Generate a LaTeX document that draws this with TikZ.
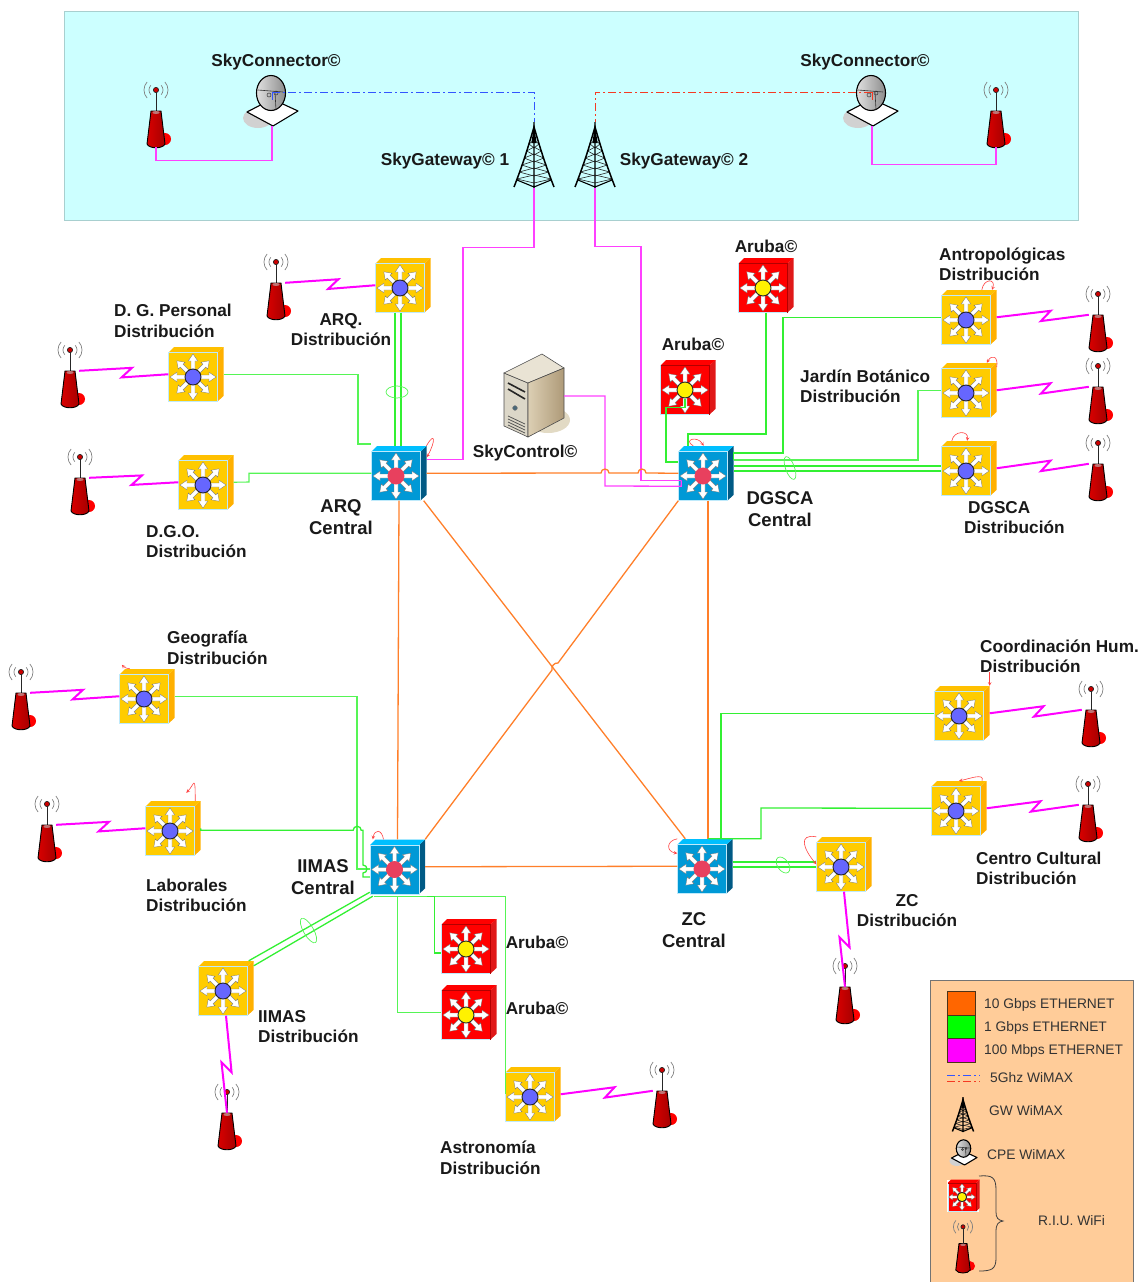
\documentclass[tikz,border=0pt]{standalone}
\usepackage{fontspec}
\setmainfont{Liberation Sans}
\usetikzlibrary{calc}

\definecolor{cielo}{HTML}{CCFFFF}
\definecolor{cielob}{HTML}{A8CFCF}
\definecolor{durazno}{HTML}{FFCC99}
\definecolor{naranja}{HTML}{FF7F2A}
\definecolor{naranjal}{HTML}{FF6600}
\definecolor{verde}{HTML}{33F033}
\definecolor{verdec}{HTML}{55F555}
\definecolor{rosado}{HTML}{FF40FF}
\definecolor{magenta}{HTML}{FF00FF}
\definecolor{azulf}{HTML}{0099D6}
\definecolor{azult}{HTML}{00BFFF}
\definecolor{azulc}{HTML}{005A85}
\definecolor{amaf}{HTML}{FFCC00}
\definecolor{amat}{HTML}{FFC000}
\definecolor{amac}{HTML}{FFB000}
\definecolor{rojof}{HTML}{FF0000}
\definecolor{rojoc}{HTML}{E01818}
\definecolor{hubrosa}{HTML}{E8405E}
\definecolor{hubazul}{HTML}{6666FF}
\definecolor{hubama}{HTML}{FFF200}
\definecolor{wazul}{HTML}{3355FF}
\definecolor{wrojo}{HTML}{F53A22}
\definecolor{srvtapa}{HTML}{E9E3D4}
\definecolor{srvfrente}{HTML}{DCD7C8}
\definecolor{srvclaro}{HTML}{DCCFB4}
\definecolor{srvoscuro}{HTML}{AE9A78}
\definecolor{srvsombra}{HTML}{E2DAC4}

\tikzset{
  etq/.style={font=\bfseries\fontsize{17.2}{20.5}\selectfont, align=left, inner sep=0pt, text=black!90},
  etqc/.style={font=\bfseries\fontsize{18.5}{22}\selectfont, align=center, inner sep=0pt, text=black!90},
  legtxt/.style={font=\fontsize{13.8}{17}\selectfont, anchor=west, inner sep=0pt, text=black!80},
  legbox/.style={draw=black!60!brown, line width=.8pt, minimum width=28pt, minimum height=23.5pt, inner sep=0pt},
  xge/.style={naranja, line width=1.3pt},
  gbe/.style={verde, line width=1.3pt},
  gbefino/.style={verdec, line width=1.1pt},
  fe/.style={rosado, line width=1.3pt},
  rf/.style={magenta, line width=2pt},
  wazl/.style={wazul, line width=1pt, dash pattern=on 8pt off 3pt on 2pt off 3pt},
  wroj/.style={wrojo, line width=1pt, dash pattern=on 8pt off 3pt on 2pt off 3pt},
  lazo/.style={red!75!white, line width=.6pt, ->, >=stealth},
  haz/.style={verdec, line width=.7pt}
}

\newcommand{\conmutador}[9]{%
  \node[minimum width=#8*55pt, minimum height=#8*54.5pt, inner sep=0pt] (#1) at ($(#2,#3)+#8*(3,-2.75)$) {};
  \begin{scope}[shift={(#2,#3)}, scale=#8]
    \fill[#5] (24.5,-24.5) -- (30.5,-30) -- (30.5,19) -- (24.5,24.5) -- cycle;
    \fill[#6] (-24.5,-24.5) -- (-19,-30) -- (30.5,-30) -- (24.5,-24.5) -- cycle;
    \filldraw[fill=#4, draw=cyan!25!white, line width=.5pt] (-24.5,-24.5) rectangle (24.5,24.5);
    \foreach \ang in {0,45,...,315}
      \filldraw[fill=white, draw=black!55, line width=.3pt, rotate=\ang] (7,-2) -- (16,-2) -- (16,-4.8) -- (23,0) -- (16,4.8) -- (16,2) -- (7,2) -- cycle;
    \filldraw[fill=#7, draw=#9, line width=.9pt] (0,0) circle (8);
  \end{scope}}
\newcommand{\swcentral}[3]{\conmutador{#1}{#2}{#3}{azulf}{azulc}{azult}{hubrosa}{1}{hubrosa}}
\newcommand{\swdist}[3]{\conmutador{#1}{#2}{#3}{amaf}{amac}{amat}{hubazul}{1}{black!85}}
\newcommand{\swaruba}[4]{\conmutador{#1}{#2}{#3}{rojof}{rojoc}{rojof}{hubama}{#4}{black!85}%
  \draw[red!70!black, line width=.5pt, shift={(#2,#3)}, scale=#4] (-24.5,-24.5) -- (24.5,-24.5) -- (24.5,24.5);}

\newcommand{\antena}[4]{%
  \node[minimum width=#4*18pt, minimum height=#4*36pt, inner sep=0pt] (#1) at (#2,#3) {};
  \begin{scope}[shift={(#2,#3)}, scale=#4]
    \fill[red] (9,10) circle (6);
    \draw[black!85, line width=1pt] (0,-39) -- (0,-18);
    \foreach \rad in {7,12} {
      \draw[black!50, line width=.7pt] (0,-39) ++(-42:\rad) arc[start angle=-42, end angle=42, radius=\rad];
      \draw[black!50, line width=.7pt] (0,-39) ++(138:\rad) arc[start angle=138, end angle=222, radius=\rad];
    }
    \filldraw[fill=red!80!black, draw=black!85, line width=.7pt] (0,-39) circle (2.6);
    \draw[line width=.9pt, draw=black, left color=red!85!black, middle color=red, right color=red!65!black] (-5,-18) -- (5,-18) -- (9,15) .. controls (7,20) and (-7,20) .. (-9,15) -- cycle;
    \fill[red!40!white!75!black] (0,-16.5) ellipse (3.5 and 1.5);
  \end{scope}}

\newcommand{\torre}[4]{%
  \node[minimum width=#4*40pt, minimum height=#4*66pt, inner sep=0pt] (#1) at (#2,#3) {};
  \begin{scope}[shift={(#2,#3)}, scale=#4]
    \foreach \alt in {-11,-4,3,10,17,24} {
      \pgfmathsetmacro{\anc}{(\alt+25)*20/57}
      \draw[black!85, line width=.6pt] (-\anc,\alt) -- (0,\alt+4) -- (\anc,\alt) (-\anc,\alt) -- (0,\alt-4) -- (\anc,\alt);
    }
    \draw[black, line width=1.5pt] (-20,32) .. controls (-9,4) and (-3,-18) .. (0,-28) .. controls (3,-18) and (9,4) .. (20,32);
    \draw[black, line width=1.1pt] (0,-33) -- (0,33) (-17,25) -- (0,32) -- (17,25);
    \fill[black] (-2.6,-12) -- (0,-30) -- (2.6,-12) -- cycle;
  \end{scope}}

\newcommand{\plato}[4]{%
  \node[minimum width=#4*52pt, minimum height=#4*68pt, inner sep=0pt] (#1) at (#2,#3) {};
  \begin{scope}[shift={(#2,#3)}, scale=#4]
    \fill[black!18] (-14,26) ellipse (15 and 10);
    \filldraw[fill=white, draw=black, line width=1.1pt, line join=round] (-25,20) -- (0,7) -- (26,19) -- (1,34) -- cycle;
    \draw[line width=1.1pt, draw=black, left color=black!12, right color=black!45] (-1,1) ellipse (14.5 and 17.5);
    \draw[black!80, line width=.6pt] (-14,-2) -- (11,0) (3,0) -- (4,18);
    \draw[black!80, line width=.5pt] (-3,3) circle (2) (4,1) circle (2);
  \end{scope}}

\newcommand{\enlace}[2]{\draw[rf] (#1) -- ($(#1)!.5!(#2)!8pt!(#2)!5pt!90:(#2)$) -- ($(#1)!.5!(#2)!-2pt!(#2)!5pt!-90:(#2)$) -- (#2);}

\begin{document}
\begin{tikzpicture}[x=1pt, y=-1pt]
  \useasboundingbox (0,0) rectangle (1141,1282);
  \filldraw[fill=cielo, draw=cielob, line width=.6pt] (64,11) rectangle (1078,220);
  \filldraw[fill=durazno, draw=black!55, line width=.9pt] (930,980) rectangle (1133,1284);

  \antena{ta}{156}{129}{1}
  \antena{tb}{996}{129}{1}
  \plato{sca}{272}{92}{1}
  \plato{scb}{872}{92}{1}
  \torre{gwa}{534}{155}{1}
  \torre{gwb}{595}{155}{1}

  \swdist{arqd}{400}{288}
  \swdist{dgp}{193}{377}
  \swdist{dgo}{203}{485}
  \swdist{antrop}{966}{320}
  \swdist{jardin}{966}{393}
  \swdist{dgscad}{966}{471}
  \swdist{geog}{144}{699}
  \swdist{lab}{170}{831}
  \swdist{iimasd}{223}{991}
  \swdist{astro}{530}{1097}
  \swdist{zcd}{841}{867}
  \swdist{coord}{959}{716}
  \swdist{centro}{956}{811}

  \swcentral{arq}{396}{476}
  \swcentral{dgsca}{703}{476}
  \swcentral{iimas}{394.5}{869.5}
  \swcentral{zc}{702}{869}

  \swaruba{aa}{763}{288}{1}
  \swaruba{ab}{685}{390}{1}
  \swaruba{ac}{466}{949}{1}
  \swaruba{ad}{466}{1015}{1}

  \antena{tarqd}{276}{301}{1}
  \antena{tdgp}{70}{389}{1}
  \antena{tdgo}{80}{496}{1}
  \antena{tantrop}{1098}{333}{1}
  \antena{tjardin}{1098}{405}{1}
  \antena{tdgscad}{1098}{482}{1}
  \antena{tgeog}{21}{711}{1}
  \antena{tlab}{47}{843}{1}
  \antena{tiimasd}{227}{1131}{1}
  \antena{tastro}{662}{1109}{1}
  \antena{tzcd}{845}{1005}{1}
  \antena{tcoord}{1091}{728}{1}
  \antena{tcentro}{1088}{823}{1}

  % servidor
  \node[minimum width=60pt, minimum height=82pt, inner sep=0pt] (skc) at (534,396) {};
  \fill[srvsombra] (548,420) ellipse (22 and 13);
  \filldraw[fill=srvfrente, draw=black!70, line width=.6pt] (504,373) -- (528,383) -- (528,437) -- (504,426) -- cycle;
  \filldraw[fill=srvtapa, draw=black!70, line width=.6pt] (504,373) -- (542,354) -- (564,368) -- (528,383) -- cycle;
  \draw[draw=black!70, line width=.6pt, left color=srvclaro, right color=srvoscuro] (528,383) -- (564,368) -- (564,418) -- (528,437) -- cycle;
  \draw[black!85, line width=1.6pt] (508,383) -- (525,392) (508,389) -- (525,399);
  \filldraw[fill=cyan!40!black, draw=black!50] (515,408) circle (2.4);
  \foreach \alt in {416,419,422,425}
    \draw[black!70, line width=.7pt] (508,\alt) -- (525,\alt+8);

  \draw[wazl] (sca.center) -- ++(0,8) (sca.center) -| (gwa.north);
  \draw[wroj] (scb.center) -- ++(0,8) (scb.center) -| (gwb.north);

  \coordinate (dgin) at ([xshift=3pt,yshift=-7pt]dgsca.west);
  \coordinate (dgsk) at ([xshift=3pt,yshift=-13pt]dgsca.west);
  \coordinate (iimb) at ([yshift=-2pt]iimas.south);

  \draw[fe] (sca.south) -- ++(0,34) -| (ta.south);
  \draw[fe] (scb.south) -- ++(0,38) -| (tb.south);
  \draw[fe] (gwa.south) -- ++(0,59) -- ++(-71,0) |- ([yshift=14pt]arq.east);
  \draw[fe] (gwb.south) -- ++(0,58) -- ++(46,0) |- (dgin);
  \draw[fe] (skc.east) -| (605,486) -- (dgsk) -- (dgin);

  \draw[xge] (arq.east) -- (601,473) arc[start angle=180, end angle=0, radius=4pt] -- (638,473) arc[start angle=180, end angle=0, radius=4pt] -- (dgsca.west);
  \draw[xge] (arq.south) -- (iimas.north);
  \draw[xge] ([xshift=2pt]dgsca.south) -- ([xshift=3pt]zc.north);
  \draw[xge] ([xshift=-3pt]arq.south east) -- ([xshift=8pt]zc.north west);
  \draw[xge] (dgsca.south west) -- (558,663) to[bend right=60] (552,670) -- (iimas.north east);
  \draw[xge] (iimas.east) -- (zc.west);

  \draw[gbe] ([xshift=-8pt]arqd.south) -- ([xshift=-4pt]arq.north);
  \draw[gbe] ([xshift=-2pt]arqd.south) -- ([xshift=2pt]arq.north);
  \draw[gbefino] (dgp.east) -| (358,444) -- (arq.west |- 0,444);
  \draw[gbefino] (dgo.east) -- (249,482) |- (arq.west);
  \draw[gbe] ([xshift=-3pt,yshift=16pt]ab.south) -- ++(0,9) -| (666,462) -- (dgsca.west |- 0,462);
  \draw[gbe] (aa.south) |- (688,434) -- ([xshift=-18pt]dgsca.north);
  \draw[gbe] (antrop.west) -| (783,453) -- (dgsca.east |- 0,453) -- (dgsca.east |- 0,460);
  \draw[gbefino] (jardin.west) -| (918,460) -- (dgsca.east |- 0,460);
  \draw[gbe] (dgsca.east |- 0,466) -- (dgscad.west |- 0,466);
  \draw[gbe] (dgsca.east |- 0,471) -- (dgscad.west |- 0,471);

  \draw[gbefino] (geog.east) -| (357,869) -- (iimas.west |- 0,869);
  \draw[gbe] (lab.east) -- ++(0,2) -- ++(152.5,0) arc[start angle=180, end angle=0, radius=4pt] -| (363,865) arc[start angle=90, end angle=-90, radius=4pt] |- (iimas.west |- 0,877);
  \draw[gbe] ([xshift=-5pt]iimasd.north east) -- ([yshift=2pt]iimas.south west);
  \draw[gbe] ([yshift=-5pt]iimasd.north east) -- ([xshift=3pt,yshift=-2pt]iimas.south west);
  \draw[gbefino] ([xshift=-24pt]iimb) -| (astro.west);
  \draw[gbe] ([xshift=29pt]iimb) -- ++(8,0) |- (ac.west |- 0,953);
  \draw[gbefino] (iimb) |- (ad.west);

  \draw[gbe] (coord.west) -| ([xshift=16pt]zc.north) -- ([xshift=3pt]zc.north);
  \draw[gbe] (centro.west) -- (761,808) |- ([xshift=3pt]zc.north);
  \draw[gbe] (zc.east |- 0,862) -- (zcd.west |- 0,862);
  \draw[gbe] (zc.east |- 0,867) -- (zcd.west |- 0,867);

  \draw[haz] (397,392) ellipse (11 and 6);
  \draw[haz, rotate around={20:(790,468)}] (790,468) ellipse (4.5 and 12);
  \draw[haz, rotate around={30:(308.5,930.5)}] (308.5,930.5) ellipse (5 and 14);
  \draw[haz, rotate around={35:(783,865)}] (783,865) ellipse (5.5 and 9);

  \enlace{tarqd.north east}{arqd.west}
  \enlace{tdgp.north east}{dgp.west}
  \enlace{tdgo.north east}{dgo.west}
  \enlace{antrop.east}{tantrop.north west}
  \enlace{jardin.east}{tjardin.north west}
  \enlace{dgscad.east}{tdgscad.north west}
  \enlace{tgeog.north east}{geog.west}
  \enlace{tlab.north east}{lab.west}
  \enlace{iimasd.south}{tiimasd.north}
  \enlace{astro.east}{tastro.north west}
  \enlace{zcd.south}{tzcd.north}
  \enlace{coord.east}{tcoord.north west}
  \enlace{centro.east}{tcentro.north west}

  \draw[lazo] (arq.45) to[out=60, in=60, looseness=4] (arq.30);
  \draw[lazo] (dgsca.115) to[out=150, in=120, looseness=3] (dgsca.95);
  \draw[lazo] (antrop.65) to[out=80, in=70, looseness=3] (antrop.50);
  \draw[lazo] (jardin.40) to[out=80, in=60, looseness=2.5] (jardin.57);
  \draw[lazo] (dgscad.122) to[out=80, in=80, looseness=1.8] (dgscad.94);
  \draw[lazo] ([yshift=14pt]coord.north east) -- (coord.north east);
  \draw[lazo] (centro.50) to[out=70, in=10] (centro.90);
  \draw[lazo] (zcd.north west) to[out=170, in=130, looseness=1.8] (zcd.180);
  \draw[lazo] (zc.north west) to[out=190, in=170, looseness=2] (zc.155);
  \draw[lazo] (geog.122) to[bend left=20] ++(-8,-4);
  \draw[lazo] (lab.51) .. controls +(0,-28) and +(8,-8) .. ++(-9,-8);
  \draw[lazo] (iimas.117) to[out=100, in=80, looseness=2.5] (iimas.132);

  \node[etq] (lsca) at (276,62.5) {SkyConnector©};
  \node[etq] (lscb) at (865,62.5) {SkyConnector©};
  \node[etq] (lgwa) at (445,161) {SkyGateway© 1};
  \node[etq] (lgwb) at (684,161) {SkyGateway© 2};
  \node[etq, anchor=west] (ldgp) at (114,321) {D. G. Personal\\Distribución};
  \node[etq, align=center] (larqd) at (341,329.5) {ARQ.\\Distribución};
  \node[etq] (laa) at (766,246.5) {Aruba©};
  \node[etq] (lab2) at (693,344.5) {Aruba©};
  \node[etq, anchor=west] (lantrop) at (939,264.5) {Antropológicas\\Distribución};
  \node[etq, anchor=west] (ljardin) at (800,386.5) {Jardín Botánico\\Distribución};
  \node[etq] (lskc) at (525,453.5) {SkyControl©};
  \node[etq, anchor=west] (ldgo) at (146,541.5) {D.G.O.\\Distribución};
  \node[etqc] (larq) at (341,517.5) {ARQ\\Central};
  \node[etqc] (ldgsca) at (780,509) {DGSCA\\Central};
  \node[etqc] (liimas) at (323,877) {IIMAS\\Central};
  \node[etqc] (lzc) at (694,930) {ZC\\Central};
  \node[etq, anchor=west] (ldgscad) at (964,517.5) {\hspace{4pt}DGSCA\\Distribución};
  \node[etq, anchor=west] (lgeog) at (167,648) {Geografía\\Distribución};
  \node[etq, anchor=west] (lcoord) at (980,656.5) {Coordinación Hum.\\Distribución};
  \node[etq, anchor=west] (llab) at (146,895.5) {Laborales\\Distribución};
  \node[etq, anchor=west] (lcentro) at (976,868.5) {Centro Cultural\\Distribución};
  \node[etq, align=center] (lzcd) at (907,910.5) {ZC\\Distribución};
  \node[etq, anchor=west] (liimasd) at (258,1026.5) {IIMAS\\Distribución};
  \node[etq] (lac) at (537,942.5) {Aruba©};
  \node[etq] (lad) at (537,1008.5) {Aruba©};
  \node[etq, anchor=west] (lastro) at (440,1158) {Astronomía\\Distribución};

  \node[legbox, fill=naranjal] (cxge) at (961,1003.5) {};
  \node[legbox, fill=green] (cgbe) at (961,1027) {};
  \node[legbox, fill=magenta] (cfe) at (961,1050.5) {};
  \node[legtxt] (txge) at (984,1004.5) {10 Gbps ETHERNET};
  \node[legtxt] (tgbe) at (984,1027.5) {1 Gbps ETHERNET};
  \node[legtxt] (tfe) at (984,1050.5) {100 Mbps ETHERNET};
  \draw[wazl] (947,1075) -- (980,1075);
  \draw[wroj] (947,1081) -- (980,1081);
  \node[legtxt] (twim) at (990,1078) {5Ghz WiMAX};
  \torre{lgw}{963}{1114.5}{.53}
  \node[legtxt] (tgw) at (989,1111) {GW WiMAX};
  \plato{lcpe}{964}{1148}{.5}
  \node[legtxt] (tcpe) at (987,1155) {CPE WiMAX};
  \fill[white] (947,1180) rectangle (979,1212);
  \swaruba{lriu}{962}{1197}{.58}
  \antena{lant}{963}{1258}{.8}
  \draw[black!75, line width=.8pt] (979,1176) .. controls (992,1175) and (996,1177) .. (996,1190) -- (996,1212) .. controls (996,1218) and (998,1220) .. (1003,1221) .. controls (998,1222) and (996,1224) .. (996,1232) -- (996,1258) .. controls (996,1269) and (992,1271) .. (979,1271);
  \node[legtxt] (triu) at (1038,1221) {R.I.U. WiFi};
\end{tikzpicture}
\end{document}
